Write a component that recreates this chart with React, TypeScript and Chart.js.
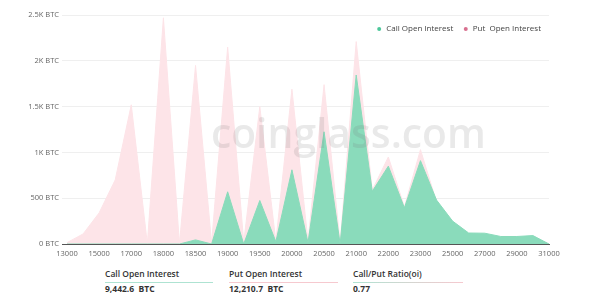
import React, { useEffect, useRef } from 'react';
import { Chart, registerables } from 'chart.js';

Chart.register(...registerables);

const strikes = [
  '13000', '14000', '15000', '16000', '17000', '17500', '18000', '18250', '18500', '18750',
  '19000', '19250', '19500', '19750', '20000', '20250', '20500', '20750', '21000', '21500',
  '22000', '22500', '23000', '24000', '25000', '26000', '27000', '28000', '29000', '30000', '31000',
];

const callOI = [
  0, 0, 0, 0, 0, 0, 0, 0, 45, 0,
  570, 0, 475, 25, 810, 15, 1225, 0, 1845, 575,
  850, 395, 910, 480, 250, 120, 118, 82, 82, 92, 0,
];

const putOI = [
  15, 110, 340, 700, 1520, 5, 2470, 5, 1950, 10,
  2150, 20, 1500, 30, 1690, 30, 1740, 10, 2210, 590,
  950, 405, 1030, 460, 230, 100, 100, 70, 70, 80, 0,
];

const yTickValues = [0, 500, 1000, 1500, 2000, 2500];
const yTickLabels = ['0 BTC', '500 BTC', '1K BTC', '1.5K BTC', '2K BTC', '2.5K BTC'];

const seriesNames = ['Call Open Interest', 'Put  Open Interest'];
const fillColors = ['#8adbbb', '#fde4e8'];
const legendColors = ['#4cc79a', '#d8708f'];

const summaryTitles = ['Call Open Interest', 'Put Open Interest', 'Call/Put Ratio(oi)'];
const summaryValues = ['9,442.6  BTC', '12,210.7  BTC', '0.77'];

const FONT = '"Open Sans", "Noto Sans", sans-serif';

const watermark = {
  id: 'watermark',
  afterDatasetsDraw(chart: any) {
    const { ctx } = chart;
    const text = 'coinglass.com';
    ctx.save();
    ctx.font = `600 44px ${FONT}`;
    const w = ctx.measureText(text).width;
    const size = (44 * 275) / w;
    ctx.font = `600 ${size}px ${FONT}`;
    ctx.fillStyle = 'rgba(120,120,120,0.16)';
    ctx.textBaseline = 'alphabetic';
    ctx.textAlign = 'left';
    ctx.fillText(text, 211, 148);
    ctx.restore();
  },
};

// Legend drawn inside the chart area, top-right, from the dataset names/colours
const insideLegend = {
  id: 'insideLegend',
  afterDraw(chart: any) {
    const { ctx } = chart;
    ctx.save();
    ctx.font = `8px ${FONT}`;
    ctx.textBaseline = 'middle';
    ctx.textAlign = 'left';
    const y = chart.chartArea.top + 14;
    let x = chart.chartArea.right - 8;
    const datasets = chart.data.datasets;
    for (let i = datasets.length - 1; i >= 0; i--) {
      const text = datasets[i].label as string;
      const tw = ctx.measureText(text).width;
      const textStart = x - tw;
      const dotX = textStart - 7;
      ctx.fillStyle = '#444';
      ctx.fillText(text, textStart, y);
      ctx.beginPath();
      ctx.arc(dotX, y, 2, 0, Math.PI * 2);
      ctx.fillStyle = legendColors[i];
      ctx.fill();
      x = dotX - 12.5;
    }
    ctx.restore();
  },
};

export default function App() {
  const ref = useRef<HTMLCanvasElement | null>(null);

  useEffect(() => {
    document.body.style.margin = '0';
    const canvas = ref.current;
    if (!canvas) return;
    const chart = new Chart(canvas, {
      type: 'line',
      data: {
        labels: strikes,
        datasets: [
          {
            label: seriesNames[0],
            data: callOI,
            fill: 'origin',
            backgroundColor: fillColors[0],
            borderColor: fillColors[0],
            borderWidth: 1,
            pointRadius: 0,
            tension: 0,
          },
          {
            label: seriesNames[1],
            data: putOI,
            fill: 'origin',
            backgroundColor: fillColors[1],
            borderColor: fillColors[1],
            borderWidth: 1,
            pointRadius: 0,
            tension: 0,
          },
        ],
      },
      options: {
        animation: false,
        responsive: false,
        maintainAspectRatio: false,
        devicePixelRatio: 1,
        layout: { padding: { top: 15, right: 51, left: 0, bottom: 0 } },
        plugins: {
          tooltip: { enabled: false },
          legend: { display: false },
        },
        scales: {
          x: {
            type: 'category',
            offset: false,
            grid: { display: false, drawTicks: false },
            border: { display: true, color: '#555', width: 1 },
            ticks: {
              autoSkip: false,
              maxRotation: 0,
              padding: 5,
              color: '#666',
              font: { size: 7.5, family: FONT },
              callback: (_v: any, i: number) => (i % 2 === 0 ? strikes[i] : ''),
            },
            afterFit: (s: any) => {
              s.height = 18;
            },
          },
          y: {
            min: 0,
            max: 2500,
            grid: {
              color: (c: any) => (c.tick && c.tick.value === 0 ? '#555' : '#efefef'),
              tickLength: 5,
            },
            border: { display: false },
            ticks: {
              stepSize: 500,
              padding: 3,
              color: '#666',
              font: { size: 7.5, family: FONT },
              callback: (v: any) => {
                const idx = yTickValues.indexOf(Number(v));
                return idx >= 0 ? yTickLabels[idx] : '';
              },
            },
            afterFit: (s: any) => {
              s.width = 67;
            },
          },
        },
      },
      plugins: [watermark, insideLegend],
    });
    return () => chart.destroy();
  }, []);

  const lefts = [105, 229, 353];
  const widths = [108, 109, 110];
  const lineBgs = [
    '#aee3d2',
    '#f6c9cf',
    'linear-gradient(to right, #aee3d2, #f6c9cf)',
  ];

  return (
    <div style={{ position: 'relative', width: 600, height: 300, background: '#fff', fontFamily: FONT }}>
      <canvas ref={ref} width={600} height={262} style={{ position: 'absolute', left: 0, top: 0, width: 600, height: 262 }} />
      {summaryTitles.map((t, i) => (
        <React.Fragment key={t}>
          <div
            style={{
              position: 'absolute',
              left: lefts[i],
              top: 268,
              fontSize: 8.5,
              fontWeight: 600,
              color: '#333',
              lineHeight: '12px',
              whiteSpace: 'pre',
            }}
          >
            {t}
          </div>
          <div
            style={{
              position: 'absolute',
              left: lefts[i],
              top: 282,
              width: widths[i],
              height: 1,
              background: lineBgs[i],
            }}
          />
          <div
            style={{
              position: 'absolute',
              left: lefts[i],
              top: 283,
              fontSize: 8.5,
              fontWeight: 700,
              color: '#333',
              lineHeight: '12px',
              whiteSpace: 'pre',
            }}
          >
            {summaryValues[i]}
          </div>
        </React.Fragment>
      ))}
    </div>
  );
}
